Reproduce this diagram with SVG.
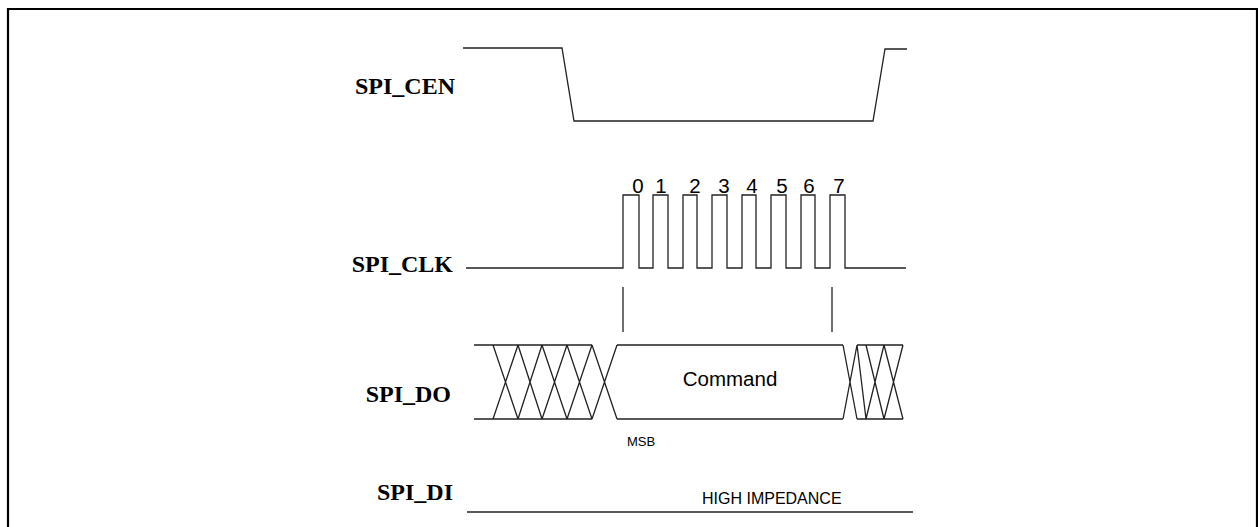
<svg xmlns="http://www.w3.org/2000/svg" width="1258" height="527" viewBox="0 0 1258 527">
<style>
.lbl{font-family:"Liberation Serif",serif;font-weight:bold;font-size:24px;fill:#000;text-anchor:end}
.sig{fill:none;stroke:#222;stroke-width:1.3}
.t{font-family:"Liberation Sans",Arial,sans-serif;fill:#000}
</style>
<rect width="1258" height="527" fill="#fff"/>
<path d="M8,527 V9 H1257 V527" fill="none" stroke="#000" stroke-width="2.2"/>
<g id="spi_cen">
<text class="lbl" x="455" y="94">SPI_CEN</text>
<path class="sig" d="M463,48 H562 L574,121 H873 L885,49 H907"/>
</g>
<g id="spi_clk">
<text class="lbl" x="453" y="272">SPI_CLK</text>
<path class="sig" d="M466,268 H623 V195 H639 V268 H653 V195 H668 V268 H683 V195 H697 V268 H712 V195 H727 V268 H742 V195 H756 V268 H771 V195 H786 V268 H801 V195 H815 V268 H830 V195 H845 V268 H906"/>
<g class="t" font-size="20.5" text-anchor="middle">
<text x="638" y="193">0</text>
<text x="661" y="193">1</text>
<text x="695" y="193">2</text>
<text x="724" y="193">3</text>
<text x="752" y="193">4</text>
<text x="782" y="193">5</text>
<text x="809" y="193">6</text>
<text x="839" y="193">7</text>
</g>
</g>
<g id="markers">
<path class="sig" d="M623,287 V332 M832,287 V332"/>
</g>
<g id="spi_do">
<text class="lbl" x="451" y="402">SPI_DO</text>
<path class="sig" d="M474,345 H592 M474,419 H592
M493,345 L518,419 M493,419 L518,345
M518,345 L542,419 M518,419 L542,345
M542,345 L567,419 M542,419 L567,345
M567,345 L592,419 M567,419 L592,345
M592,345 L617,419 M592,419 L617,345
M617,345 H843 M617,419 H843
M843,345 L857,419 M843,419 L857,345
M857,345 H903 M857,419 H903
M857,345 L866,419
M866,345 L884,419 M866,419 L884,345
M884,345 L903,419 M884,419 L903,345"/>
<text class="t" x="730" y="386" font-size="20.5" text-anchor="middle">Command</text>
<text class="t" x="627" y="446" font-size="13">MSB</text>
</g>
<g id="spi_di">
<text class="lbl" x="453" y="500">SPI_DI</text>
<path class="sig" d="M467,512 H913"/>
<text class="t" x="702" y="504" font-size="16">HIGH IMPEDANCE</text>
</g>
</svg>
